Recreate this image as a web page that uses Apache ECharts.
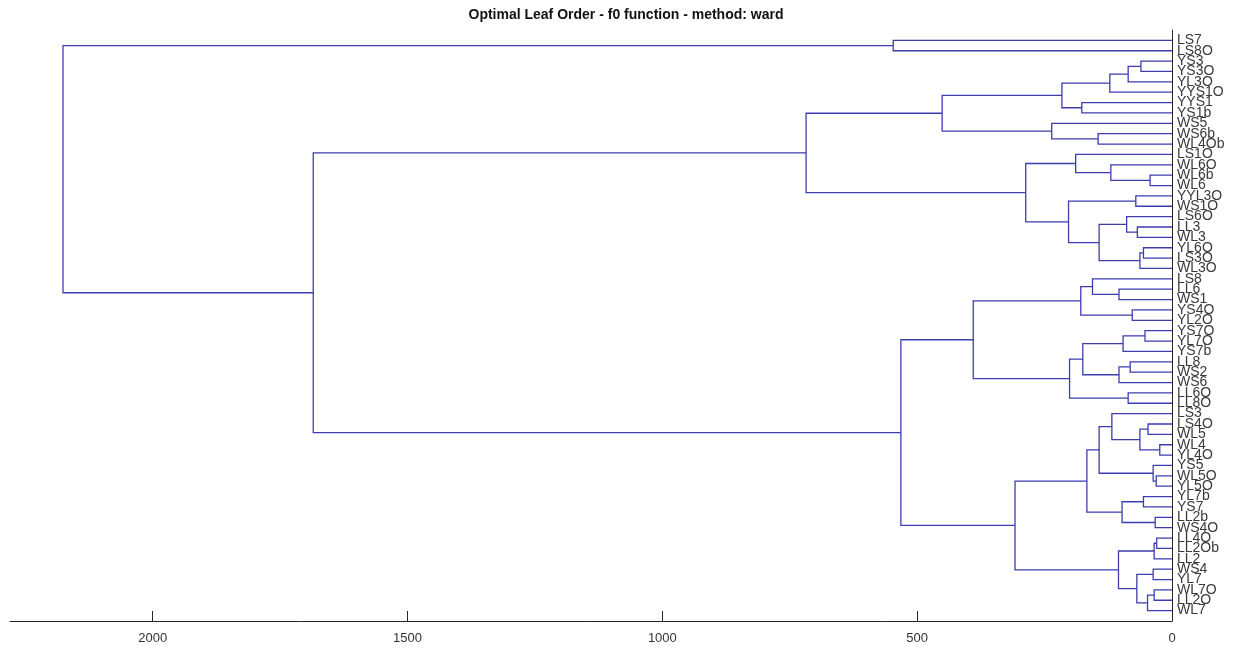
<!DOCTYPE html>
<html>
<head>
<meta charset="utf-8">
<script src="https://cdn.jsdelivr.net/npm/echarts@6/dist/echarts.min.js"></script>
<style>
html,body{margin:0;padding:0;background:#fff;}
#chart{width:1240px;height:651px;}
</style>
</head>
<body>
<div id="chart"></div>
<script>
// Leaf order, top to bottom
var leaves = ['LS7','LS8O','YS3','YS3O','YL3O','YYS1O','YYS1','YS1b','WS5','WS6b','WL4Ob',
  'LS1O','WL6O','WL6b','WL6','YYL3O','WS1O','LS6O','LL3','WL3','YL6O','LS3O','WL3O',
  'LS8','LL6','WS1','YS4O','YL2O','YS7O','YL7O','YS7b','LL8','WS2','WS6','LL6O','LL8O',
  'LS3','LS4O','WL5','WL4','YL4O','YS5','WL5O','YL5O','YL7b','YS7','LL2b','WS4O',
  'LL4O','LL2Ob','LL2','WS4','YL7','WL7O','LL2O','WL7'];

// Merges: children (leaf name or '#k' = k-th merge) and linkage height
var mergeLeft  = ['YS3','#0','#1','YYS1','#2','WS6b','WS5','#4','WL6b','WL6O','LS1O','YYL3O','LL3','LS6O','YL6O','#14','#13','#11','#10','#7',
  'LL6','LS8','YS4O','#21','YS7O','#24','LL8','#26','#25','LL6O','#28','#23',
  'LS4O','WL4','#32','LS3','WL5O','YS5','#35','YL7b','LL2b','#39','#38','LL4O','#43','WS4','WL7O','#46','#45','#44','#42','#31','#19','LS7','#53'];
var mergeRight = ['YS3O','YL3O','YYS1O','YS1b','#3','WL4Ob','#5','#6','WL6','#8','#9','WS1O','WL3','#12','LS3O','WL3O','#15','#16','#17','#18',
  'WS1','#20','YL2O','#22','YL7O','YS7b','WS2','WS6','#27','LL8O','#29','#30',
  'WL5','YL4O','#33','#34','YL5O','#36','#37','YS7','WS4O','#40','#41','LL2Ob','LL2','YL7','LL2O','WL7','#47','#48','#49','#50','#51','LS8O','#52'];
var mergeHeight = [61,86,122,177,216,145,236,451,43,120,189,71,68,89,56,63,143,203,287,718,
  104,156,78,179,53,96,82,104,175,86,201,390,
  47,24,63,118,31,37,143,56,33,98,167,30,35,37,35,48,69,105,308,532,1685,547,2176];

var xTicks = [0, 500, 1000, 1500, 2000];
var xMax = 2280;
var title = 'Optimal Leaf Order - f0 function - method: ward';

// Build dendrogram segments (data space: x = height, y = leaf position)
var nLeaves = leaves.length;
var leafPos = {};
leaves.forEach(function (n, i) { leafPos[n] = nLeaves - i; });
var nodes = [];
function node(ref) {
  if (ref.charAt(0) === '#') return nodes[parseInt(ref.slice(1), 10)];
  return { h: 0, y: leafPos[ref] };
}
var segs = [];
for (var k = 0; k < mergeHeight.length; k++) {
  var a = node(mergeLeft[k]), b = node(mergeRight[k]), h = mergeHeight[k];
  segs.push({ coords: [[a.h, a.y], [h, a.y], [h, b.y], [b.h, b.y]] });
  nodes.push({ h: h, y: (a.y + b.y) / 2 });
}

var chart = echarts.init(document.getElementById('chart'));
chart.setOption({
  animation: false,
  backgroundColor: '#fff',
  title: {
    text: title, left: 621, top: 3, textAlign: 'center',
    textStyle: { fontFamily: 'Liberation Sans, Arial, sans-serif', fontSize: 14, fontWeight: 'bold', color: '#111' }
  },
  grid: { left: 10, right: 68, top: 30, bottom: 30, containLabel: false },
  xAxis: {
    type: 'value', inverse: true, min: 0, max: xMax, interval: 500,
    axisLine: { show: true, lineStyle: { color: '#262626', width: 1 } },
    axisTick: { show: true, inside: true, length: 10, customValues: xTicks, lineStyle: { color: '#262626' } },
    axisLabel: {
      customValues: xTicks, margin: 11, color: '#333', fontSize: 13,
      fontFamily: 'Liberation Sans, Arial, sans-serif',
      formatter: function (v) { return String(v); }
    },
    splitLine: { show: false }
  },
  yAxis: {
    type: 'value', position: 'right', min: 0, max: nLeaves + 1, interval: 1,
    axisLine: { show: true, onZero: false, lineStyle: { color: '#262626', width: 1 } },
    axisTick: { show: false },
    axisLabel: {
      margin: 5, color: '#3a3a3a', fontSize: 14, fontFamily: 'Liberation Sans, Arial, sans-serif',
      formatter: function (v) {
        var i = nLeaves - Math.round(v);
        return (v >= 1 && v <= nLeaves) ? leaves[i] : '';
      }
    },
    splitLine: { show: false }
  },
  series: [{
    type: 'lines', coordinateSystem: 'cartesian2d', polyline: true, silent: true,
    lineStyle: { color: '#3d3db2', width: 1.3, opacity: 1 },
    data: segs
  }]
});
</script>
</body>
</html>
